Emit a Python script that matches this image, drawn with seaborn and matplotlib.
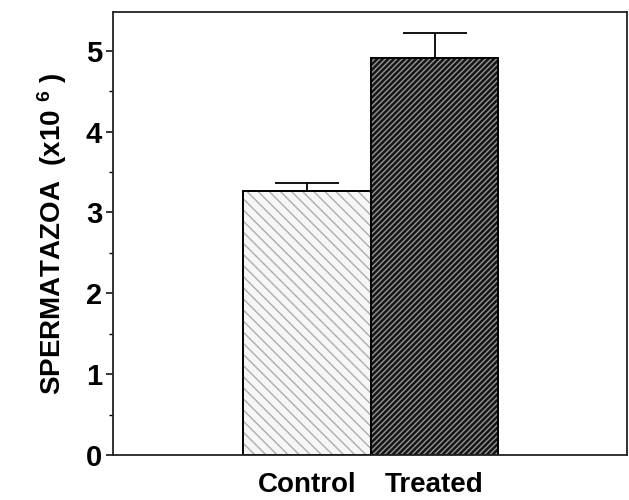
import matplotlib
matplotlib.use("Agg")
import matplotlib.pyplot as plt
import seaborn as sns
import pandas as pd

groups = ["Control", "Treated"]
means = [3.26, 4.91]
sem = [0.10, 0.31]
y_ticks = [0, 1, 2, 3, 4, 5]

sns.set_style("ticks")
plt.rcParams['font.family'] = ['Liberation Sans', 'DejaVu Sans']
plt.rcParams['mathtext.fontset'] = 'custom'
plt.rcParams['mathtext.bf'] = 'Liberation Sans:bold'
plt.rcParams['mathtext.rm'] = 'Liberation Sans:bold'
plt.rcParams['mathtext.default'] = 'bf'
plt.rcParams['text.color'] = 'black'
plt.rcParams['axes.labelcolor'] = 'black'
plt.rcParams['xtick.color'] = 'black'
plt.rcParams['ytick.color'] = 'black'

df = pd.DataFrame({"group": groups, "count": means})

fig = plt.figure(figsize=(6.29, 5.0), dpi=100)
ax = fig.add_axes([0.180, 0.09, 0.817, 0.886])

sns.barplot(data=df, x="group", y="count", errorbar=None, width=1.0,
            color="white", edgecolor="black", linewidth=1.3, ax=ax)

# restyle bars: light dashed fill for control, dark hatched fill for treated
styles = [("#f6f6f6", "#adadad", "\\\\\\"), ("#151515", "#959595", "//////")]
for patch, (face, hcol, hatch) in zip(ax.patches, styles):
    patch.set_facecolor(face)
    x, w, h = patch.get_x(), patch.get_width(), patch.get_height()
    ax.bar(x + w / 2, h, width=w, color="none", edgecolor=hcol,
           hatch=hatch, linewidth=0, zorder=patch.get_zorder() + 0.1)
    ax.bar(x + w / 2, h, width=w, color="none", edgecolor="black",
           linewidth=1.3, zorder=patch.get_zorder() + 0.2)

# upward-only error bars
ax.errorbar(range(len(groups)), means, yerr=[[0] * len(sem), sem], fmt="none",
            ecolor="black", elinewidth=1.3, capsize=23, capthick=1.3, zorder=5)

ax.set_xlim(-1.52, 2.51)
ax.set_ylim(0, 5.48)
ax.set_yticks(y_ticks)
ax.set_yticks([0.5, 1.5, 2.5, 3.5, 4.5], minor=True)
ax.tick_params(axis="y", which="major", length=5, width=1.1, labelsize=21, pad=3)
ax.tick_params(axis="y", which="minor", length=3, width=1.0)
ax.tick_params(axis="x", length=0, labelsize=20, pad=12)
for lbl in ax.get_yticklabels() + ax.get_xticklabels():
    lbl.set_fontweight("bold")

ax.set_xlabel("")
ax.set_ylabel(r"SPERMATAZOA  (x10 $^{6}$ )", fontsize=20, fontweight="bold", labelpad=12)

for side in ["left", "right", "top", "bottom"]:
    ax.spines[side].set_visible(True)
    ax.spines[side].set_linewidth(1.3)
    ax.spines[side].set_color("#222222")

fig.savefig("out.png", dpi=100)
